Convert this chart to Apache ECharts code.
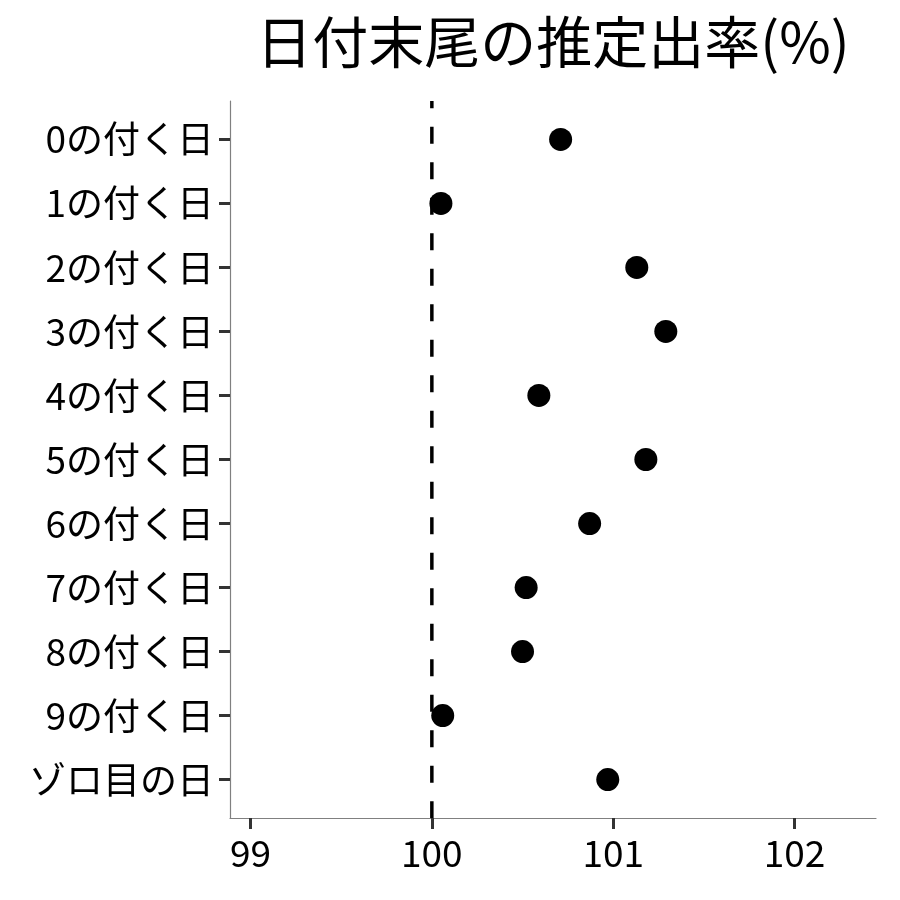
<!DOCTYPE html>
<html><head><meta charset="utf-8">
<script src="https://cdn.jsdelivr.net/npm/echarts@6/dist/echarts.min.js"></script>
<style>html,body{margin:0;padding:0;background:#fff}#c{width:900px;height:900px}</style>
</head><body><div id="c"></div>
<script>
const categories = ['0の付く日','1の付く日','2の付く日','3の付く日','4の付く日','5の付く日','6の付く日','7の付く日','8の付く日','9の付く日','ゾロ目の日'];
const values = [100.71, 100.05, 101.13, 101.29, 100.59, 101.18, 100.87, 100.52, 100.50, 100.06, 100.97];
const xTicks = [99, 100, 101, 102];
const refValue = 100;
const titleText = '日付末尾の推定出率(%)';

const FONT = '"Noto Sans CJK JP", "Noto Sans", sans-serif';
const chart = echarts.init(document.getElementById('c'), null, {renderer: 'canvas'});
const idx = categories.map((_, i) => i);
chart.setOption({
  animation: false,
  backgroundColor: '#ffffff',
  title: {
    text: titleText, left: 548, top: 9, textAlign: 'center',
    textStyle: {fontFamily: FONT, fontSize: 56, fontWeight: 'normal', color: '#000'}
  },
  grid: {left: 230, right: 24, top: 101, bottom: 82, containLabel: false},
  xAxis: {
    type: 'value', min: 98.887, max: 102.449,
    axisLine: {show: true, onZero: false, lineStyle: {color: '#808080', width: 1.2}},
    axisTick: {show: true, customValues: xTicks, length: 11, lineStyle: {color: '#333', width: 3}},
    axisLabel: {customValues: xTicks, fontFamily: FONT, fontSize: 37, color: '#000', margin: 16,
      formatter: v => String(v)},
    splitLine: {show: false}
  },
  yAxis: {
    type: 'value', min: -0.6, max: 10.6, inverse: true,
    axisLine: {show: true, onZero: false, lineStyle: {color: '#808080', width: 1.2}},
    axisTick: {show: true, customValues: idx, length: 11, lineStyle: {color: '#333', width: 3}},
    axisLabel: {customValues: idx, fontFamily: FONT, fontSize: 37, color: '#000', margin: 16,
      formatter: v => categories[Math.round(v)]},
    splitLine: {show: false}
  },
  series: [
    {
      type: 'scatter', symbolSize: 23, itemStyle: {color: '#000', opacity: 1},
      data: values.map((v, i) => [v, i]), z: 2
    },
    {
      type: 'line', symbol: 'none', silent: true, z: 3,
      lineStyle: {color: '#000', width: 3.5, type: [17, 18.5], dashOffset: 9.8},
      data: [[refValue, -0.6], [refValue, 10.6]]
    }
  ]
});
</script></body></html>
